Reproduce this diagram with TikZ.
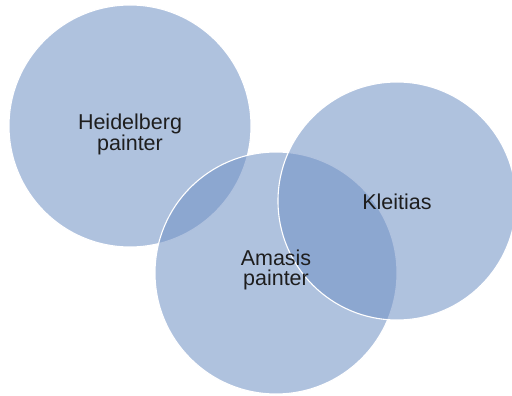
\documentclass[tikz,border=0pt]{standalone}
\usepackage{fontspec}
\setmainfont{Liberation Sans}
\definecolor{vennfill}{RGB}{113,146,197}
\definecolor{labeltext}{RGB}{30,30,30}
\tikzset{
  venn/.style={circle, fill=vennfill, fill opacity=0.56, draw=white, draw opacity=1, line width=1.1pt, inner sep=0pt},
  lbl/.style={align=center, text=labeltext, font=\fontsize{21.5}{19.5}\selectfont, inner sep=0pt}
}
\begin{document}
\begin{tikzpicture}[x=1pt,y=-1pt]
  \useasboundingbox (0,0) rectangle (512,396);
  \clip (0,0) rectangle (512,396);
  \node[venn, minimum size=242pt] (heid) at (130,126) {};
  \node[venn, minimum size=242pt] (amasis) at (276,273) {};
  \node[venn, minimum size=238pt] (kleit) at (397,201) {};
  \node[lbl] (heidt) at (130,134) {Heidelberg\\painter};
  \node[lbl] (kleitt) at (397,202) {Kleitias};
  \node[lbl] (amasist) at (276,270) {Amasis\\painter};
\end{tikzpicture}
\end{document}
